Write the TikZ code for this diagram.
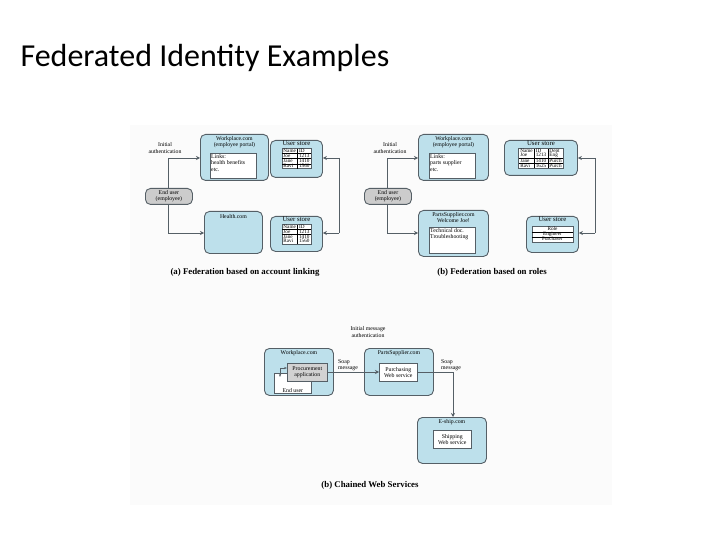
\documentclass[tikz,border=0pt]{standalone}
\usepackage{fontspec}
\setmainfont{Liberation Serif}
\newfontfamily\titlefont{Carlito}
\usetikzlibrary{arrows.meta}
\definecolor{lb}{HTML}{BDE0EB}
\definecolor{bd}{HTML}{555F66}
\tikzset{
 bx/.style={draw=bd,line width=0.9pt,fill=lb,rounded corners=5pt,anchor=north west,inner sep=0},
 wb/.style={draw=bd,line width=0.6pt,fill=white,anchor=north west,inner sep=0},
 eu/.style={draw=bd,line width=0.9pt,fill=gray!40,rounded corners=5pt,anchor=north west,inner sep=0,minimum width=47,minimum height=16,font=\fontsize{5.8}{6.2}\selectfont,align=center},
 txt/.style={font=\fontsize{5.8}{6.4}\selectfont,align=center,inner sep=1pt},
 ltxt/.style={font=\fontsize{5.8}{6.4}\selectfont,align=left,inner sep=1pt},
 captxt/.style={font=\fontsize{8.8}{10}\selectfont\bfseries},
 tb/.style={draw=bd,fill=white,inner sep=0,line width=0.5pt,font=\fontsize{5.2}{5.4}\selectfont},
 ar/.style={draw=bd,line width=0.9pt,-{Stealth[length=4pt,width=4pt]}}
}
\begin{document}
\begin{tikzpicture}[x=1pt,y=-1pt]
\useasboundingbox (0,0) rectangle (720,540);
\fill[gray!3] (130,125) rectangle (612,505);
\node[anchor=west,font=\titlefont\fontsize{32}{36}\selectfont] (title) at (17,58) {Federated Identity Examples};
\setlength\tabcolsep{1.6pt}
\renewcommand\arraystretch{0.75}
% ---------- (a)
\node[txt] (ia) at (165,148) {Initial\\authentication};
\node[bx,minimum width=68,minimum height=46] (wpa) at (200,134) {};
\node[txt,below=1pt] at (wpa.north) {Workplace.com\\(employee portal)};
\node[wb,minimum width=46,minimum height=25] (wpai) at (210,153) {};
\node[ltxt,anchor=north west] at (wpai.north west) {Links:\\health benefits\\etc.};
\node[bx,minimum width=52,minimum height=37] (usa1) at (270,140) {};
\node[txt,below=0pt] at (usa1.north) {\fontsize{6.8}{7}\selectfont User store};
\node[tb,anchor=north] at ([yshift=-8.5pt]usa1.north) {\begin{tabular}{l|l}Name&ID\\\hline Joe&1213\\\hline Jane&1410\\\hline Ravi&1560\end{tabular}};
\node[eu] (eua) at (145,188) {End user\\(employee)};
\node[bx,minimum width=58,minimum height=42] (hc) at (204,211) {};
\node[txt,below=2pt] at (hc.north) {Health.com};
\node[bx,minimum width=52,minimum height=35] (usa2) at (270,216) {};
\node[txt,below=0pt] at (usa2.north) {\fontsize{6.8}{7}\selectfont User store};
\node[tb,anchor=north] at ([yshift=-8.5pt]usa2.north) {\begin{tabular}{l|l}Name&ID\\\hline Joe&1213\\\hline Jane&1410\\ Ravi&1560\end{tabular}};
\coordinate (a1) at (168,158); \coordinate (a2) at (168,233);
\draw[ar] (eua.north -| a1) -- (a1) -- (wpa.west |- a1);
\draw[ar] (eua.south -| a2) -- (a2) -- (hc.west |- a2);
\coordinate (r1) at (339,158); \coordinate (r2) at (339,233);
\draw[ar] (r1) -- (usa1.east |- r1);
\draw[ar] (r2) -- (usa2.east |- r2);
\draw[bd,line width=0.9pt] (r1) -- (r2);
\node[captxt] (capa) at (245,272) {(a) Federation based on account linking};
% ---------- (b)
\node[txt] (ib) at (390,148) {Initial\\authentication};
\node[bx,minimum width=70,minimum height=46] (wpb) at (418,134) {};
\node[txt,below=1pt] at (wpb.north) {Workplace.com\\(employee portal)};
\node[wb,minimum width=46,minimum height=25] (wpbi) at (429,153) {};
\node[ltxt,anchor=north west] at (wpbi.north west) {Links:\\parts supplier\\etc.};
\node[bx,minimum width=73,minimum height=35] (usb1) at (504,140) {};
\node[txt,below=0pt] at (usb1.north) {\fontsize{6.8}{7}\selectfont User store};
\node[tb,anchor=north] at ([yshift=-8.5pt]usb1.north) {\begin{tabular}{l|l|l}Name&ID&Dept\\Joe&1213&Eng\\\hline Jane&1410&Purch\\\hline Ravi&1625&Purch\end{tabular}};
\node[eu] (eub) at (364,188) {End user\\(employee)};
\node[bx,minimum width=70,minimum height=46] (ps) at (418,210) {};
\node[txt,below=1pt] at (ps.north) {PartsSupplier.com\\Welcome Joe!};
\node[wb,minimum width=46,minimum height=26] (psi) at (429,227) {};
\node[ltxt,anchor=north west] at (psi.north west) {Technical doc.\\Troubleshooting};
\node[bx,minimum width=52,minimum height=36] (usb2) at (526,216) {};
\node[txt,below=0pt] at (usb2.north) {\fontsize{6.8}{7}\selectfont User store};
\node[tb,anchor=north] at ([yshift=-10.5pt]usb2.north) {\begin{tabular}{p{38pt}}\centering Role\tabularnewline\hline\centering Engineer\tabularnewline\hline\centering Purchaser\end{tabular}};
\coordinate (b1) at (387,158); \coordinate (b2) at (387,233);
\draw[ar] (eub.north -| b1) -- (b1) -- (wpb.west |- b1);
\draw[ar] (eub.south -| b2) -- (b2) -- (ps.west |- b2);
\coordinate (s1) at (595,158); \coordinate (s2) at (595,233);
\draw[ar] (s1) -- (usb1.east |- s1);
\draw[ar] (s2) -- (usb2.east |- s2);
\draw[bd,line width=0.9pt] (s1) -- (s2);
\node[captxt] (capb) at (492,272) {(b) Federation based on roles};
% ---------- (c)
\node[txt] (im) at (368,332) {Initial message\\authentication};
\node[bx,minimum width=69,minimum height=47] (wpc) at (264,348) {};
\node[txt,below=1pt] at (wpc.north) {Workplace.com};
\node[wb,minimum width=37,minimum height=20] (euc) at (274,373) {};
\node[txt,anchor=south] at (euc.south) {End user};
\node[wb,fill=gray!35,minimum width=40,minimum height=18] (pa) at (287,363) {};
\node[txt] at (pa.center) {Procurement\\application};
\draw[bd,line width=0.7pt,{Stealth[length=3pt]}-{Stealth[length=3pt]}] (280,377) -- (280,368) -- (pa.west |- 0,368);
\node[ltxt,anchor=north west] (sm1) at (337,358) {Soap\\message};
\node[bx,minimum width=69,minimum height=47] (psc) at (364,348) {};
\node[txt,below=1pt] at (psc.north) {PartsSupplier.com};
\node[wb,minimum width=38,minimum height=18] (pw) at (379,363) {};
\node[txt] at (pw.center) {Purchasing\\Web service};
\draw[ar] (pa.east |- 0,372) -- (pw.west |- 0,372);
\node[ltxt,anchor=north west] (sm2) at (440,358) {Soap\\message};
\node[bx,minimum width=69,minimum height=46] (es) at (417,417) {};
\node[txt,below=1pt] at (es.north) {E-ship.com};
\node[wb,minimum width=38,minimum height=18] (sw) at (433,430) {};
\node[txt] at (sw.center) {Shipping\\Web service};
\coordinate (c1) at (453,372);
\draw[ar] (pw.east |- c1) -- (c1) -- (es.north -| c1);
\node[captxt] (capc) at (370,485) {(b) Chained Web Services};
\end{tikzpicture}
\end{document}
